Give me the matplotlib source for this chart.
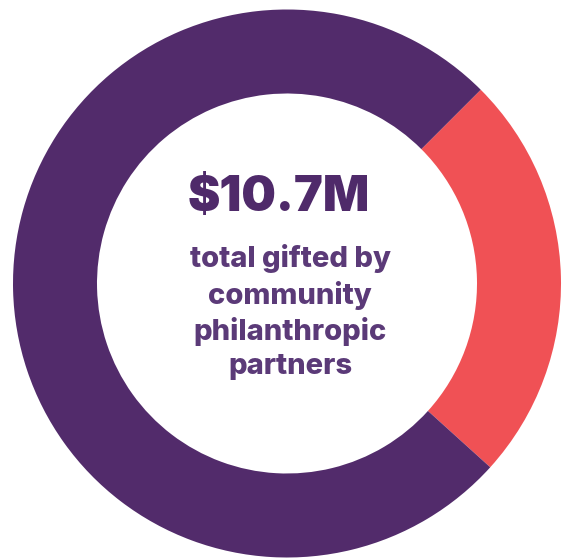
import matplotlib
matplotlib.use("Agg")
import matplotlib.pyplot as plt

# share of the $10.7M total (percent), read from the ring
labels = ["other partners", "highlighted partners"]
shares = [75.8, 24.2]
colors = ["#522b6b", "#f05155"]

headline = "$10.7M"
caption = "total gifted by\ncommunity\nphilanthropic\npartners"

PURPLE_DARK = "#4f2a6a"
PURPLE_TEXT = "#5b3a78"

fig = plt.figure(figsize=(5.63, 5.58), dpi=100)
ax = fig.add_axes([0, 0, 1, 1])

# ring centre sits at (287, 283.5) px, outer radius 274 px, inner 190 px
R = 274.0
ax.pie(shares[::-1], colors=colors[::-1], startangle=45, counterclock=False,
       radius=1.0, wedgeprops=dict(width=1 - 190 / R, linewidth=0))
ax.set_xlim(-287 / R, (563 - 287) / R)
ax.set_ylim((283.5 - 558) / R, 283.5 / R)
ax.set_aspect("auto")
ax.axis("off")

def px(x, y):
    return (x - 287) / R, (283.5 - y) / R

x0, y0 = px(279, 198)
ax.text(x0, y0, headline, ha="center", va="center", fontsize=35,
        fontweight="black", family=["Inter", "DejaVu Sans"], color=PURPLE_DARK)
x1, y1 = px(290, 312)
ax.text(x1, y1, caption, ha="center", va="center", fontsize=21,
        fontweight="heavy", family=["Inter", "DejaVu Sans"], color=PURPLE_TEXT,
        linespacing=1.32)

fig.savefig("out.png", dpi=100)
